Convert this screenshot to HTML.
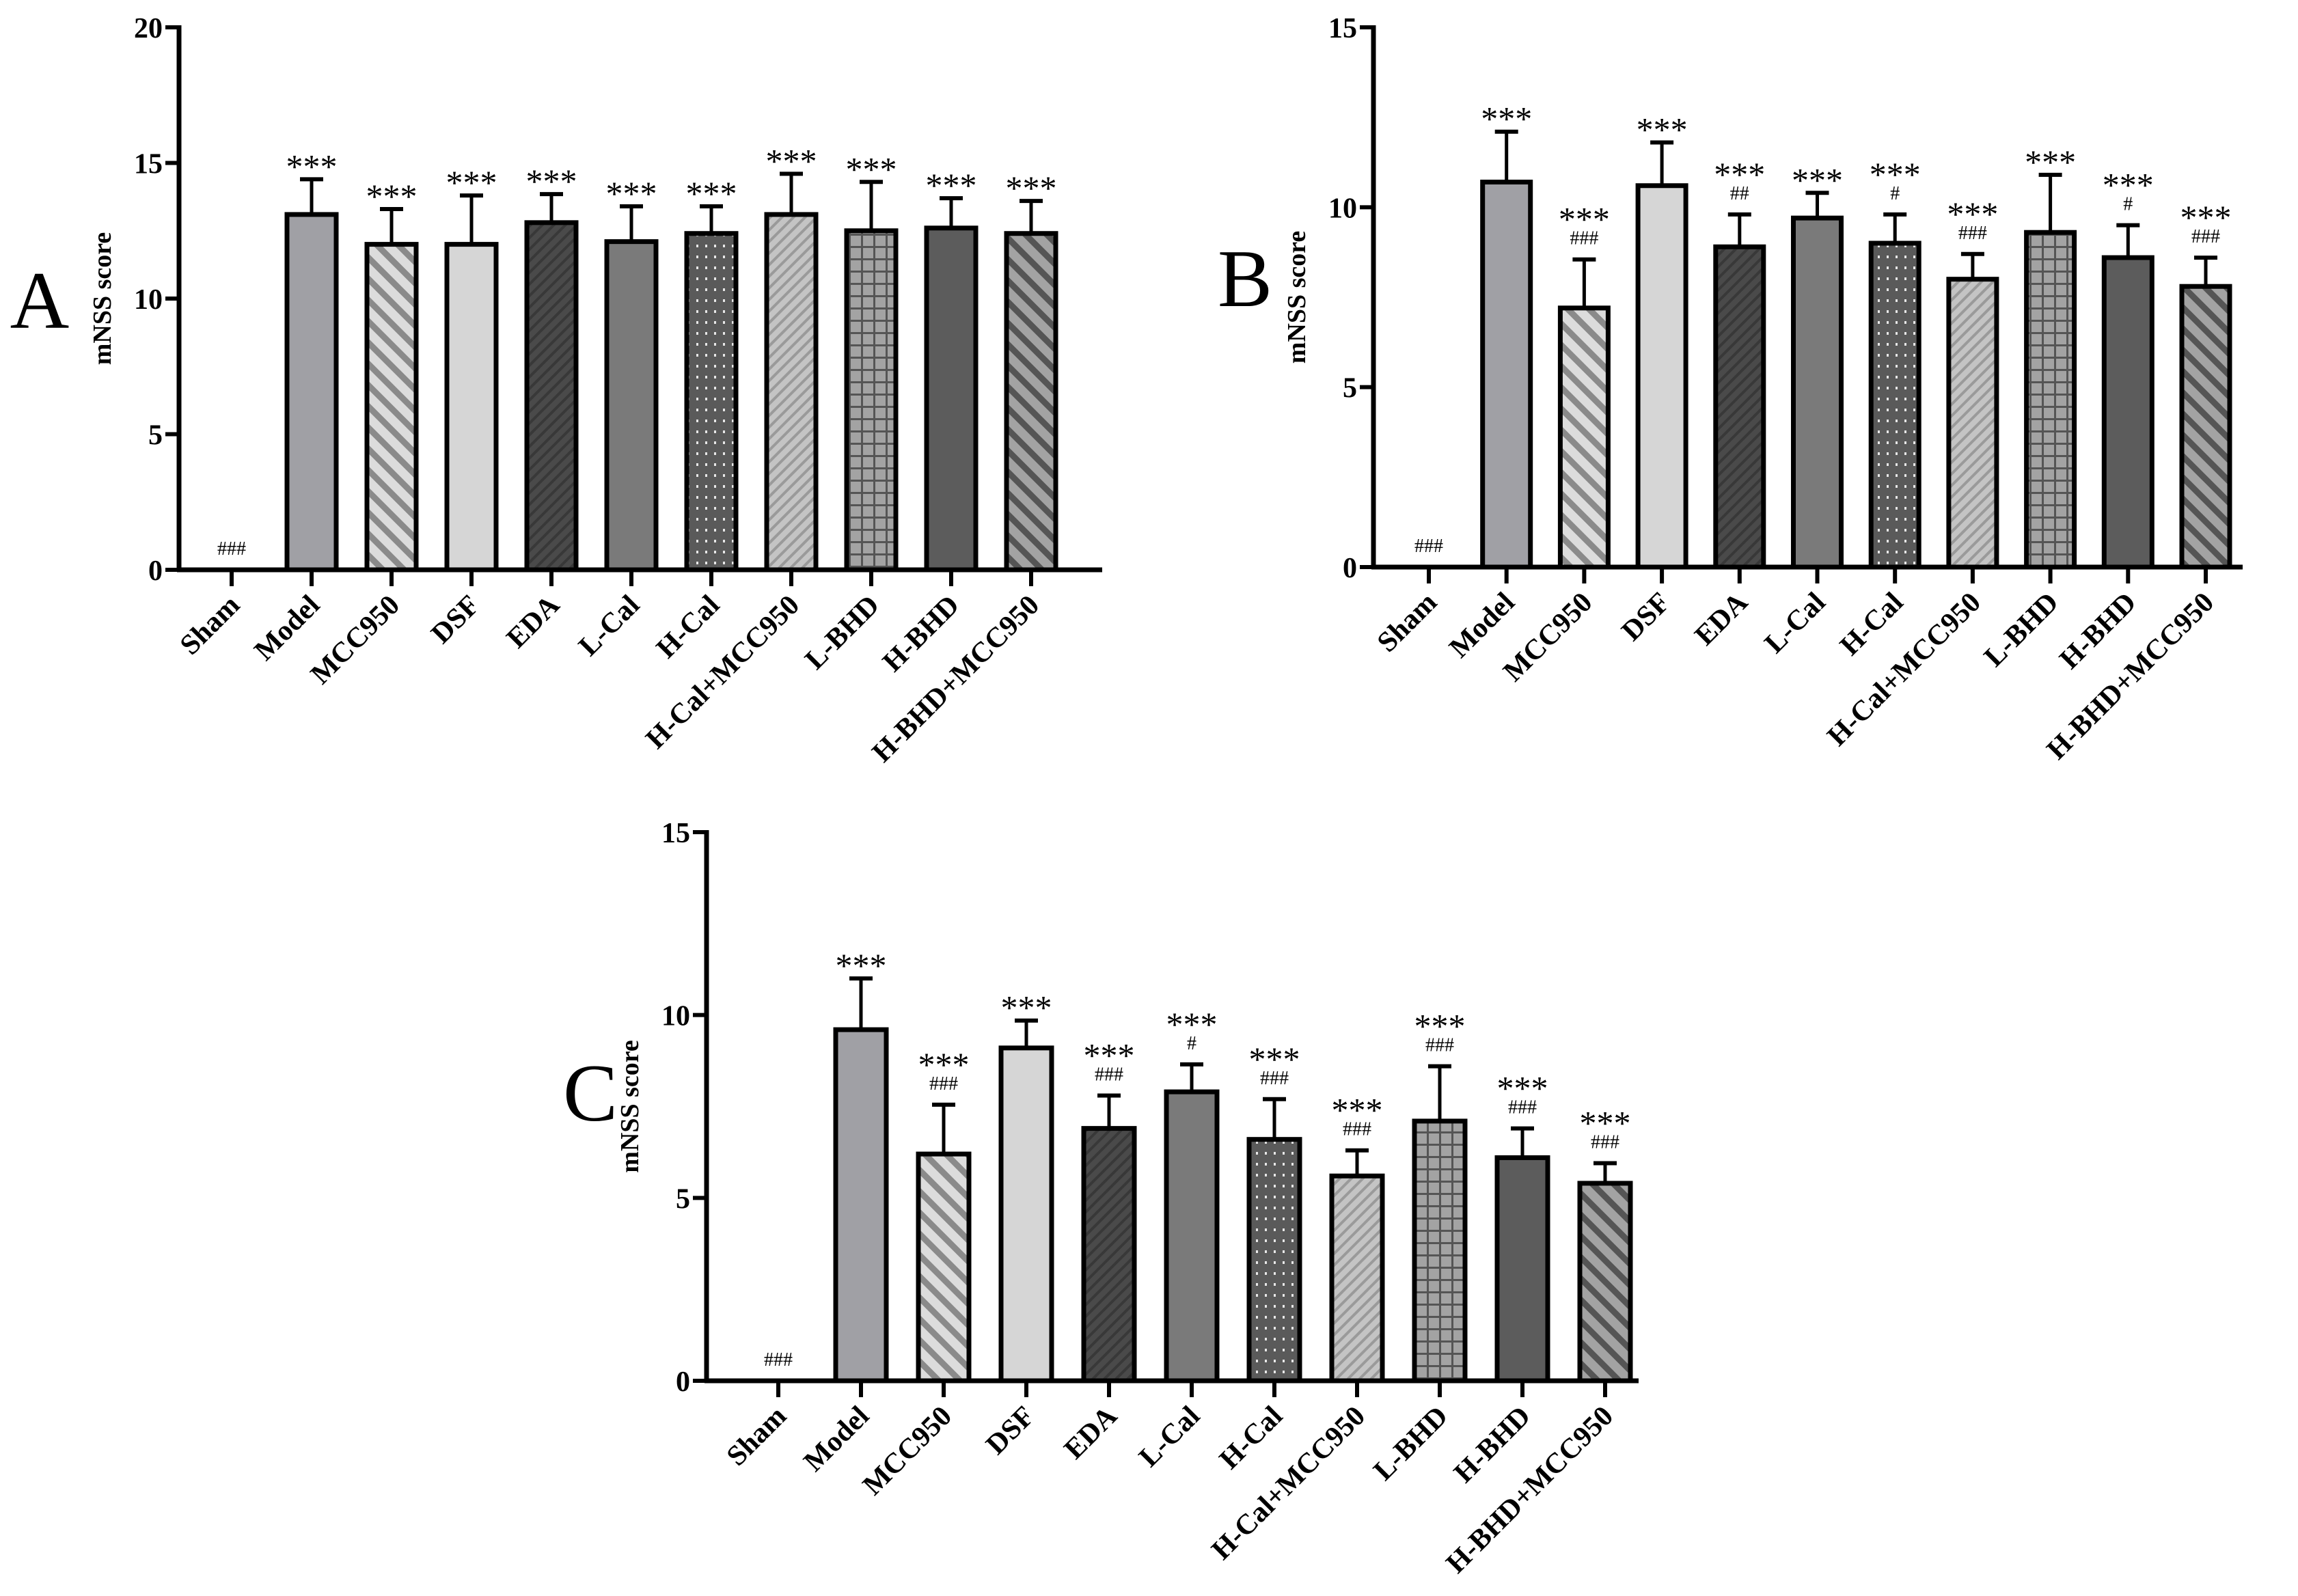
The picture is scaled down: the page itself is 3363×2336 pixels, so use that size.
<!DOCTYPE html>
<html><head><meta charset="utf-8">
<style>
html,body{margin:0;padding:0;background:#fff;}
svg{display:block;}
text{font-family:"Liberation Serif",serif;}
</style></head>
<body>
<svg id="fig" width="3363" height="2336" viewBox="0 0 3363 2336" xmlns="http://www.w3.org/2000/svg">
<defs>
<pattern id="pMCC" patternUnits="userSpaceOnUse" width="22" height="22" patternTransform="rotate(-45)"><rect width="22" height="22" fill="#dcdcdc"/><rect width="9" height="22" fill="#8a8a8a"/></pattern>
<pattern id="pEDA" patternUnits="userSpaceOnUse" width="12" height="12" patternTransform="rotate(45)"><rect width="12" height="12" fill="#4a4a4a"/><rect width="4" height="12" fill="#383838"/></pattern>
<pattern id="pHCal" patternUnits="userSpaceOnUse" width="13" height="16"><rect width="13" height="16" fill="#5a5a5a"/><rect x="5" y="6" width="3" height="4" fill="#e8e8e8"/></pattern>
<pattern id="pHCM" patternUnits="userSpaceOnUse" width="12" height="12" patternTransform="rotate(45)"><rect width="12" height="12" fill="#c4c4c4"/><rect width="4" height="12" fill="#9a9a9a"/></pattern>
<pattern id="pLBHD" patternUnits="userSpaceOnUse" width="18" height="18"><rect width="18" height="18" fill="#a3a3a3"/><rect width="3" height="18" fill="#555"/><rect width="18" height="3" fill="#555"/></pattern>
<pattern id="pHBM" patternUnits="userSpaceOnUse" width="22" height="22" patternTransform="rotate(-45)"><rect width="22" height="22" fill="#a3a3a3"/><rect width="9" height="22" fill="#555"/></pattern>
</defs>
</svg>
<script>
const categories = ["Sham","Model","MCC950","DSF","EDA","L-Cal","H-Cal","H-Cal+MCC950","L-BHD","H-BHD","H-BHD+MCC950"];
const fills = ["#fff","#a0a0a5","url(#pMCC)","#d6d6d6","url(#pEDA)","#7a7a7a","url(#pHCal)","url(#pHCM)","url(#pLBHD)","#5c5c5c","url(#pHBM)"];
const valuesA = [0,13.1,12.0,12.0,12.8,12.1,12.4,13.1,12.5,12.6,12.4];
const errTopA = [0,14.4,13.3,13.8,13.85,13.4,13.4,14.6,14.3,13.7,13.6];
const starsA = ["","***","***","***","***","***","***","***","***","***","***"];
const hashA = ["###","","","","","","","","","",""];
const valuesB = [0,10.7,7.2,10.6,8.9,9.7,9.0,8.0,9.3,8.6,7.8];
const errTopB = [0,12.1,8.55,11.8,9.8,10.4,9.8,8.7,10.9,9.5,8.6];
const starsB = ["","***","***","***","***","***","***","***","***","***","***"];
const hashB = ["###","","###","","##","","#","###","","#","###"];
const valuesC = [0,9.6,6.2,9.1,6.9,7.9,6.6,5.6,7.1,6.1,5.4];
const errTopC = [0,11.0,7.55,9.85,7.8,8.65,7.7,6.3,8.6,6.9,5.95];
const starsC = ["","***","***","***","***","***","***","***","***","***","***"];
const hashC = ["###","","###","","###","#","###","###","###","###","###"];
const ticksA = [0,5,10,15,20];
const ticksBC = [0,5,10,15];

const svg = document.getElementById('fig');
const NS = 'http://www.w3.org/2000/svg';
function mk(tag, attrs, parent){const e=document.createElementNS(NS,tag);for(const k in attrs)e.setAttribute(k,attrs[k]);(parent||svg).appendChild(e);return e;}

function panel(id, cfg, vals, errs, stars, hashes, ticks){
  const g = mk('g',{});
  
  
  const ymax = ticks[ticks.length-1];
  const y = v => cfg.y0 - (cfg.y0-cfg.yTop)*v/ymax;
  const x = i => cfg.x0c + i*cfg.step;
  const L = mk('text',{x:cfg.lx,y:cfg.ly,'font-size':120,'text-anchor':'middle'},g);
  L.textContent=id;
  
  
  const yt = mk('text',{x:0,y:0,'font-size':38,'font-weight':'bold','text-anchor':'middle',transform:`translate(${cfg.ax-100},${(cfg.y0+cfg.yTop)/2}) rotate(-90)`},g);
  yt.textContent='mNSS score';
  
  
  vals.forEach((v,i)=>{
    const cx=x(i), w=cfg.bw;
    if(v>0){
      const top=errs[i];
      const el=mk('line',{x1:cx,x2:cx,y1:y(v),y2:y(top),stroke:'#000','stroke-width':5},g);
      
      
      const cap=mk('line',{x1:cx-17,x2:cx+17,y1:y(top),y2:y(top),stroke:'#000','stroke-width':6},g);
      
      
      const r=mk('rect',{x:cx-w/2,y:y(v),width:w,height:cfg.y0-y(v),fill:fills[i],stroke:'#000','stroke-width':7},g);
      
      
      const hasHash = hashes[i]!=='';
      if(hasHash){
        const h=mk('text',{x:cx,y:y(top)-22,'font-size':28,'text-anchor':'middle'},g);
        h.textContent=hashes[i];
        
        
      }
      if(stars[i]){
        const s=mk('text',{x:cx,y:y(top)-(hasHash?42:2),'font-size':50,'text-anchor':'middle'},g);
        s.textContent=stars[i];
        
        
      }
    } else if(hashes[i]){
      const h=mk('text',{x:cx,y:cfg.y0-22,'font-size':28,'text-anchor':'middle'},g);
      h.textContent=hashes[i];
      
      
    }
    const tk=mk('line',{x1:cx,x2:cx,y1:cfg.y0,y2:cfg.y0+24,stroke:'#000','stroke-width':6},g);
    
    
    const lb=mk('text',{x:0,y:0,'font-size':42,'font-weight':'bold','text-anchor':'end',transform:`translate(${cx+14},${cfg.y0+54}) rotate(-45)`},g);
    lb.textContent=categories[i];
    
    
  });
  const ya=mk('line',{x1:cfg.ax,x2:cfg.ax,y1:cfg.yTop-3,y2:cfg.y0+3,stroke:'#000','stroke-width':7},g);
  
  
  const xa=mk('line',{x1:cfg.ax-3,x2:cfg.xEnd,y1:cfg.y0,y2:cfg.y0,stroke:'#000','stroke-width':7},g);
  
  
  ticks.forEach(t=>{
    const tl=mk('line',{x1:cfg.ax-20,x2:cfg.ax,y1:y(t),y2:y(t),stroke:'#000','stroke-width':6},g);
    
    
    const tt=mk('text',{x:cfg.ax-24,y:y(t)+15,'font-size':42,'font-weight':'bold','text-anchor':'end'},g);
    tt.textContent=t;
    
    
  });
}
panel('A',{ax:262,yTop:40,y0:834,xEnd:1613,x0c:339,step:117,bw:72,lx:58,ly:480},valuesA,errTopA,starsA,hashA,ticksA);
panel('B',{ax:2010,yTop:40,y0:830,xEnd:3282,x0c:2091,step:113.7,bw:70,lx:1822,ly:448},valuesB,errTopB,starsB,hashB,ticksBC);
panel('C',{ax:1034,yTop:1218,y0:2021,xEnd:2398,x0c:1139,step:121,bw:74,lx:864,ly:1640},valuesC,errTopC,starsC,hashC,ticksBC);
</script>
</body></html>
